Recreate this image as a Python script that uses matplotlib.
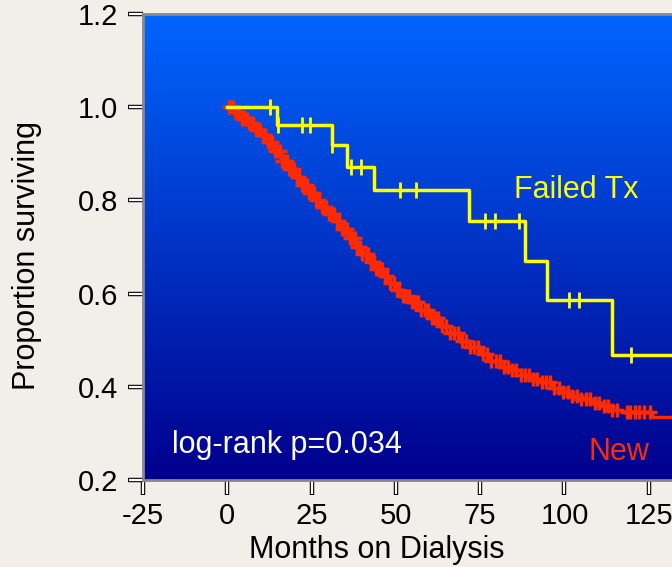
import numpy as np
import matplotlib.pyplot as plt

# Kaplan-Meier estimates, months on dialysis vs proportion surviving
failed_t = [0, 14.8, 31.0, 35.6, 43.6, 71.8, 88.4, 94.7, 114.0, 150.0]
failed_s = [1.0, 0.962, 0.919, 0.872, 0.822, 0.755, 0.671, 0.586, 0.468, 0.468]
failed_cens = [12.8, 14.9, 22.3, 24.6, 31.2, 36.8, 39.8, 51.3, 56.1,
               76.3, 79.5, 86.6, 101.5, 104.2, 119.6]

new_t = [0, 2, 4, 6, 8, 10, 12, 14, 16, 18, 20, 22, 24, 26, 28, 30, 32, 34,
         36, 38, 40, 42, 44, 46, 48, 50, 52, 54, 57, 60, 63, 66, 69, 72, 75,
         78, 81, 84, 87, 90, 93, 96, 99, 102, 105, 108, 111, 114, 117, 126, 150]
new_s = [1.0, 0.99, 0.975, 0.965, 0.952, 0.94, 0.925, 0.905, 0.885, 0.868,
         0.85, 0.833, 0.815, 0.80, 0.785, 0.77, 0.755, 0.738, 0.72, 0.70,
         0.685, 0.668, 0.652, 0.638, 0.622, 0.608, 0.595, 0.582, 0.565, 0.548,
         0.53, 0.515, 0.498, 0.485, 0.47, 0.455, 0.443, 0.435, 0.425, 0.417,
         0.41, 0.398, 0.388, 0.38, 0.373, 0.365, 0.358, 0.35, 0.346, 0.335,
         0.335]
new_cens = [0.5, 1, 1.7, 2.4, 3, 3.6, 4.3, 5, 5.8, 6.5, 7, 7.7, 8.5, 9.1, 9.8,
            10.6, 11.2, 12, 12.7, 13.3, 14.1, 14.9, 15.5, 16.3, 17, 17.6, 18.4,
            19.2, 19.9, 20.6, 21.3, 22.1, 22.8, 23.5, 24.3, 25, 25.8, 26.4,
            27.2, 28, 28.7, 29.4, 30.2, 31, 31.6, 32.5, 33.2, 34, 34.7, 35.5,
            36.3, 37, 37.8, 38.6, 39.3, 40.1, 41, 41.8, 42.5, 43.4, 44.2, 45,
            45.9, 46.8, 47.5, 48.4, 49.3, 50.2, 51, 52, 53, 53.8, 54.7, 55.6,
            56.5, 57.4, 58.5, 59.5, 60.6, 61.5, 62.6, 63.7, 64.8, 66, 67.2,
            68.3, 69.5, 70.8, 72, 73.3, 74.5, 75.8, 77, 78.3, 79.6, 80.8, 82,
            83.2, 84.5, 85.7, 87, 88.2, 89.5, 90.8, 92, 93.3, 94.5, 95.8, 97,
            98.4, 99.7, 101, 102.3, 103.6, 105, 106.3, 107.6, 109, 110.3, 111.6,
            112.8, 114.2, 115.5, 118.5, 119.5, 121, 122, 123.5, 125.5]

x_ticks = [-25, 0, 25, 50, 75, 100, 125]
y_ticks = [0.2, 0.4, 0.6, 0.8, 1.0, 1.2]


def step_at(t, s, x):
    idx = np.searchsorted(t, x, side='right') - 1
    return np.asarray(s)[idx]


plt.rcParams['font.family'] = ['Liberation Sans', 'DejaVu Sans']
plt.rcParams['axes.unicode_minus'] = False
bg = '#f2efea'
fig = plt.figure(figsize=(6.72, 5.67), dpi=100, facecolor=bg)
ax = fig.add_axes([0.2128, 0.1534, 0.878, 0.822])
ax.set_xlim(-25, 150)
ax.set_ylim(0.2, 1.2)

# vertical blue gradient behind the curves
top = np.array([0, 102, 255]) / 255
bot = np.array([0, 0, 140]) / 255
f = np.linspace(0, 1, 256)[:, None]
grad = (top * (1 - f) + bot * f)[:, None, :]
ax.imshow(grad, extent=[0, 1, 0, 1], transform=ax.transAxes,
          aspect='auto', zorder=0, interpolation='bilinear')

ax.plot(failed_t, failed_s, drawstyle='steps-post', color='#ffff00', lw=2.5, zorder=3)
ax.plot(failed_cens, step_at(failed_t, failed_s, failed_cens), ls='none',
        marker='|', ms=11, mew=2, color='#ffff00', zorder=3)

ax.plot(new_t, new_s, drawstyle='steps-post', color='#ff2a00', lw=2.5, zorder=2)
ax.plot(new_cens, step_at(new_t, new_s, new_cens), ls='none',
        marker='+', ms=10, mew=2.5, color='#ff2a00', zorder=2)

ax.text(85, 0.822, 'Failed Tx', color='#ffff00', fontsize=22, va='center')
ax.text(107, 0.26, 'New', color='#ff2a00', fontsize=22, va='center')
ax.text(-16.3, 0.275, 'log-rank p=0.034', color='white', fontsize=22, va='center')

for sp in ax.spines.values():
    sp.set_color('#888888')
    sp.set_linewidth(2)

# hollow tick marks: black major ticks with white minor ticks on top
ax.set_xticks(x_ticks)
ax.set_yticks(y_ticks)
ax.set_yticklabels(['%.1f' % v for v in y_ticks])
ax.set_xticks(x_ticks, minor=True)
ax.set_yticks(y_ticks, minor=True)
ax.xaxis.remove_overlapping_locs = False
ax.yaxis.remove_overlapping_locs = False
ax.tick_params(which='major', direction='out', length=11, width=3.2,
               color='black', labelsize=21)
ax.tick_params(which='minor', direction='out', length=10, width=1.6,
               color='white')
ax.tick_params(axis='x', which='major', pad=5)
ax.tick_params(axis='y', which='major', pad=7)

fig.text(0.561, 0.03, 'Months on Dialysis', fontsize=22, ha='center', va='center')
fig.text(0.04, 0.55, 'Proportion surviving', fontsize=22, rotation=90,
         ha='center', va='center')

fig.savefig('out.png', dpi=100, facecolor=bg)
